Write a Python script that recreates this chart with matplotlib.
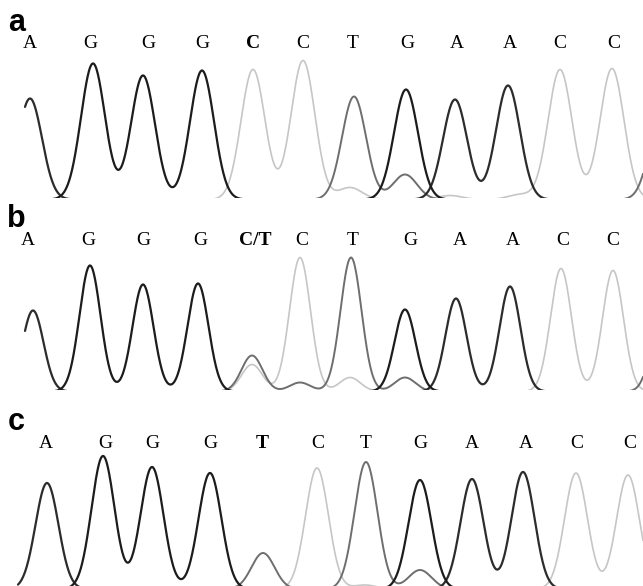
import numpy as np
import matplotlib
matplotlib.use("Agg")
import matplotlib.pyplot as plt

# base calls and where they sit along the trace (scan position)
calls_a = ['A', 'G', 'G', 'G', 'C', 'C', 'T', 'G', 'A', 'A', 'C', 'C']
call_pos_a = [30, 90, 148, 202, 253, 303, 353, 407, 457, 510, 560, 614]
calls_b = ['A', 'G', 'G', 'G', 'C/T', 'C', 'T', 'G', 'A', 'A', 'C', 'C']
call_pos_b = [28, 88, 143, 200, 255, 302, 353, 410, 460, 513, 563, 613]
calls_c = ['A', 'G', 'G', 'G', 'T', 'C', 'T', 'G', 'A', 'A', 'C', 'C']
call_pos_c = [46, 105, 152, 210, 262, 318, 366, 420, 472, 526, 577, 630]
bold_call = [4, 4, 4]   # the variant position in each trace

# peaks per dye channel: (scan position, signal)
peaks_a = {
    'C': [(253, 130), (303, 139), (350, 12), (450, 4), (520, 5), (560, 130), (612, 131)],
    'T': [(354, 103), (405, 25), (662, 90)],
    'A': [(30, 101), (455, 100), (508, 114)],
    'G': [(93, 136), (143, 124), (202, 129), (406, 110)],
}
peaks_b = {
    'C': [(252, 27), (300, 134), (350, 14), (561, 123), (613, 121)],
    'T': [(252, 36), (300, 9), (351, 134), (405, 14), (663, 90)],
    'A': [(33, 81), (456, 93), (510, 105)],
    'G': [(90, 126), (143, 107), (198, 108), (405, 82)],
}
peaks_c = {
    'C': [(317, 121), (365, 4), (576, 116), (628, 114)],
    'T': [(263, 36), (366, 127), (420, 19)],
    'A': [(47, 106), (472, 110), (523, 117)],
    'G': [(103, 133), (152, 122), (210, 116), (420, 109)],
}

dye_color = {'C': '#c6c6c6', 'T': '#6e6e6e', 'A': '#2c2c2c', 'G': '#1c1c1c'}
dye_lw = {'C': 1.2, 'T': 1.4, 'A': 1.6, 'G': 1.6}

W, H = 643, 586
fig = plt.figure(figsize=(W / 100, H / 100), dpi=100)


def trace(peaks, x, width):
    y = np.zeros_like(x)
    for p, h in peaks:
        y += h * np.exp(-(x - p) ** 2 / (2 * width ** 2))
    return y


def panel(top, bottom, base, letter, letter_y, calls, call_pos, call_y,
          peaks, width, x0, bold_i):
    # one pixel = one signal unit, baseline at image row `base`
    ax = fig.add_axes([0, (H - bottom) / H, 1, (bottom - top) / H])
    ax.set_xlim(0, W)
    ax.set_ylim(base - bottom, base - top)
    ax.axis('off')
    x = np.linspace(x0, W, 1500)
    for dye in ['C', 'T', 'A', 'G']:
        ax.plot(x, trace(peaks[dye], x, width), color=dye_color[dye],
                lw=dye_lw[dye], solid_capstyle='round')
    for i, (c, p) in enumerate(zip(calls, call_pos)):
        ax.text(p, base - call_y, c, ha='center', va='baseline', fontsize=14,
                family='Liberation Serif',
                fontweight='bold' if i == bold_i else 'normal')
    ax.text(16.5, base - letter_y, letter, ha='center', va='baseline',
            fontsize=22, family='Liberation Sans', fontweight='bold')
    return ax


panel(0, 198, 199.5, 'a', 31, calls_a, call_pos_a, 48.5,
      peaks_a, 12.0, 25, bold_call[0])
panel(198, 390, 391.5, 'b', 227, calls_b, call_pos_b, 245,
      peaks_b, 10.5, 25, bold_call[1])
panel(390, 586, 589, 'c', 430, calls_c, call_pos_c, 447.5,
      peaks_c, 11.5, 18, bold_call[2])

fig.savefig('out.png', dpi=100, facecolor='white')
